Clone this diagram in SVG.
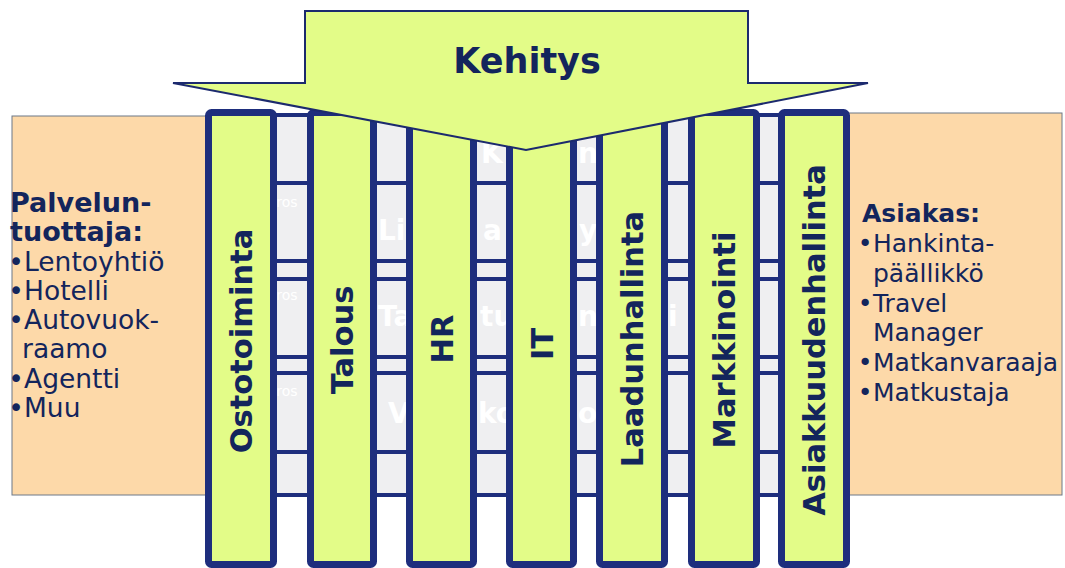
<svg xmlns="http://www.w3.org/2000/svg" width="1065" height="568" viewBox="0 0 1065 568">
  <style>
    .side { fill: #fdd9a9; stroke: #6d7888; stroke-width: 1; }
    .col { fill: #e3fc88; stroke: #1e2e7d; stroke-width: 7; }
    .band { fill: #efeff1; }
    .rule { stroke: #1e2e7d; stroke-width: 4; }
    .collabel { font-family: "DejaVu Sans", Verdana, sans-serif; font-weight: bold; font-size: 30.5px; fill: #13255c; text-anchor: middle; }
    .head-l { font-family: "DejaVu Sans", Verdana, sans-serif; font-weight: bold; font-size: 27px; fill: #13255c; }
    .item-l { font-family: "DejaVu Sans", Verdana, sans-serif; font-size: 26.5px; fill: #13255c; }
    .head-r { font-family: "DejaVu Sans", Verdana, sans-serif; font-weight: bold; font-size: 25px; fill: #13255c; }
    .item-r { font-family: "DejaVu Sans", Verdana, sans-serif; font-size: 25px; fill: #13255c; }
    .dot { text-anchor: middle; }
    .ghost { font-family: "DejaVu Sans", Verdana, sans-serif; font-weight: bold; font-size: 28px; fill: #ffffff; }
    .ghost-small { font-family: "DejaVu Sans", Verdana, sans-serif; font-size: 14px; fill: #ffffff; }
    .arrow { fill: #e3fc88; stroke: #1c2a6e; stroke-width: 2; stroke-linejoin: miter; }
    .title { font-family: "DejaVu Sans", Verdana, sans-serif; font-weight: bold; font-size: 35px; fill: #13255c; text-anchor: middle; }
  </style>

  <rect width="1065" height="568" fill="#ffffff"/>

  <!-- side panels -->
  <g id="palveluntuottaja">
    <rect class="side" x="12" y="116" width="200" height="379"/>
    <text class="head-l" x="10" y="212">Palvelun-</text>
    <text class="head-l" x="10" y="241">tuottaja:</text>
    <text class="item-l dot" x="16" y="271">•</text>
    <text class="item-l" x="24" y="271">Lentoyhtiö</text>
    <text class="item-l dot" x="16" y="300">•</text>
    <text class="item-l" x="24" y="300">Hotelli</text>
    <text class="item-l dot" x="16" y="329">•</text>
    <text class="item-l" x="24" y="329">Autovuok-</text>
    <text class="item-l" x="22" y="358">raamo</text>
    <text class="item-l dot" x="16" y="388">•</text>
    <text class="item-l" x="24" y="388">Agentti</text>
    <text class="item-l dot" x="16" y="417">•</text>
    <text class="item-l" x="24" y="417">Muu</text>
  </g>

  <g id="asiakas">
    <rect class="side" x="845" y="113" width="217" height="382"/>
    <text class="head-r" x="862" y="222">Asiakas:</text>
    <text class="item-r dot" x="865" y="252">•</text>
    <text class="item-r" x="873" y="252">Hankinta-</text>
    <text class="item-r" x="873" y="282">päällikkö</text>
    <text class="item-r dot" x="865" y="312">•</text>
    <text class="item-r" x="873" y="312">Travel</text>
    <text class="item-r" x="873" y="341">Manager</text>
    <text class="item-r dot" x="865" y="371">•</text>
    <text class="item-r" x="873" y="371">Matkanvaraaja</text>
    <text class="item-r dot" x="865" y="401">•</text>
    <text class="item-r" x="873" y="401">Matkustaja</text>
  </g>

  <!-- horizontal process rows behind the columns -->
  <g id="rows">
    <rect class="band" x="240" y="115" width="575" height="380"/>
    <line class="rule" x1="240" y1="115" x2="815" y2="115"/>
    <line class="rule" x1="240" y1="183" x2="815" y2="183"/>
    <line class="rule" x1="240" y1="261" x2="815" y2="261"/>
    <line class="rule" x1="240" y1="279" x2="815" y2="279"/>
    <line class="rule" x1="240" y1="357" x2="815" y2="357"/>
    <line class="rule" x1="240" y1="373" x2="815" y2="373"/>
    <line class="rule" x1="240" y1="452" x2="815" y2="452"/>
    <line class="rule" x1="240" y1="495" x2="815" y2="495"/>
    <text class="ghost" x="481" y="163">K</text>
    <text class="ghost" x="578" y="163">n</text>
    <text class="ghost-small" x="268" y="207">Pros</text>
    <text class="ghost" x="378" y="240">Lii</text>
    <text class="ghost" x="483" y="240">a</text>
    <text class="ghost" x="579" y="240">y</text>
    <text class="ghost-small" x="268" y="300">Pros</text>
    <text class="ghost" x="378" y="326">Ta</text>
    <text class="ghost" x="480" y="326">tu</text>
    <text class="ghost" x="578" y="326">n</text>
    <text class="ghost" x="668" y="326">i</text>
    <text class="ghost-small" x="268" y="396">Pros</text>
    <text class="ghost" x="388" y="423">V</text>
    <text class="ghost" x="478" y="423">ko</text>
    <text class="ghost" x="578" y="423">o</text>
  </g>

  <!-- vertical function columns -->
  <g id="ostotoiminta">
    <rect class="col" x="208.5" y="112.5" width="65" height="452" rx="3"/>
    <text class="collabel" transform="translate(252 341) rotate(-90)">Ostotoiminta</text>
  </g>
  <g id="talous">
    <rect class="col" x="310.5" y="112.5" width="63" height="452" rx="3"/>
    <text class="collabel" transform="translate(353 340) rotate(-90)">Talous</text>
  </g>
  <g id="hr">
    <rect class="col" x="409.5" y="112.5" width="64" height="452" rx="3"/>
    <text class="collabel" transform="translate(452.5 339) rotate(-90)">HR</text>
  </g>
  <g id="it">
    <rect class="col" x="509.5" y="112.5" width="64" height="452" rx="3"/>
    <text class="collabel" transform="translate(552.5 344) rotate(-90)">IT</text>
  </g>
  <g id="laadunhallinta">
    <rect class="col" x="599.5" y="112.5" width="65" height="452" rx="3"/>
    <text class="collabel" transform="translate(643 339) rotate(-90)">Laadunhallinta</text>
  </g>
  <g id="markkinointi">
    <rect class="col" x="691.5" y="112.5" width="65" height="452" rx="3"/>
    <text class="collabel" transform="translate(735 340) rotate(-90)">Markkinointi</text>
  </g>
  <g id="asiakkuudenhallinta">
    <rect class="col" x="781.5" y="112.5" width="65" height="452" rx="3"/>
    <text class="collabel" transform="translate(825 340) rotate(-90)">Asiakkuudenhallinta</text>
  </g>

  <!-- development arrow over the columns -->
  <g id="kehitys">
    <polygon class="arrow" points="305,11 748,11 748,83 868,83 526,150 173,83 305,83"/>
    <text class="title" x="527" y="73">Kehitys</text>
  </g>

  <g id="connectors"/>
</svg>
